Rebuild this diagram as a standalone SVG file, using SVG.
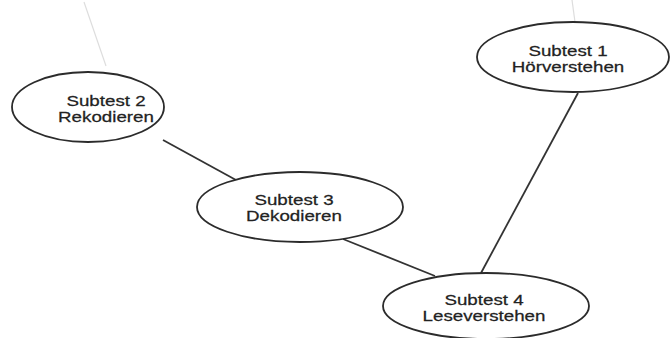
<svg xmlns="http://www.w3.org/2000/svg" width="671" height="338" viewBox="0 0 671 338">
  <style>
    .node ellipse { fill: #ffffff; stroke: #2b2b2b; stroke-width: 1.8; }
    .node text { font-family: "Liberation Sans", Arial, Helvetica, sans-serif; font-size: 15px; fill: #222222; stroke: #222222; stroke-width: 0.25; text-anchor: middle; }
    .edge { stroke: #333333; stroke-width: 1.8; fill: none; }
    .faint { stroke: #dddddd; stroke-width: 1.2; fill: none; }
  </style>
  <rect width="671" height="338" fill="#ffffff"/>
  <!-- faint marks along the top -->
  <path class="faint" d="M84 2 L106 66"/>
  <path class="faint" d="M572 0 L575 22"/>

  <g id="connectors">
    <line class="edge" x1="163" y1="140" x2="236" y2="180"/>
    <line class="edge" x1="343" y1="239" x2="435" y2="276"/>
    <line class="edge" x1="578" y1="93" x2="481" y2="273"/>
  </g>

  <g id="subtest1" class="node">
    <ellipse cx="573" cy="57" rx="96" ry="35"/>
    <g transform="translate(568 0) scale(1.25 1)">
      <text x="0" y="56">Subtest 1</text>
      <text x="0" y="72">Hörverstehen</text>
    </g>
  </g>

  <g id="subtest2" class="node">
    <ellipse cx="88" cy="107" rx="76" ry="35"/>
    <g transform="translate(106 0) scale(1.25 1)">
      <text x="0" y="106">Subtest 2</text>
      <text x="0" y="122">Rekodieren</text>
    </g>
  </g>

  <g id="subtest3" class="node">
    <ellipse cx="300" cy="207" rx="103" ry="35"/>
    <g transform="translate(294 0) scale(1.25 1)">
      <text x="0" y="205">Subtest 3</text>
      <text x="0" y="221">Dekodieren</text>
    </g>
  </g>

  <g id="subtest4" class="node">
    <ellipse cx="486" cy="306" rx="103" ry="33"/>
    <g transform="translate(484 0) scale(1.25 1)">
      <text x="0" y="305">Subtest 4</text>
      <text x="0" y="321">Leseverstehen</text>
    </g>
  </g>
</svg>
